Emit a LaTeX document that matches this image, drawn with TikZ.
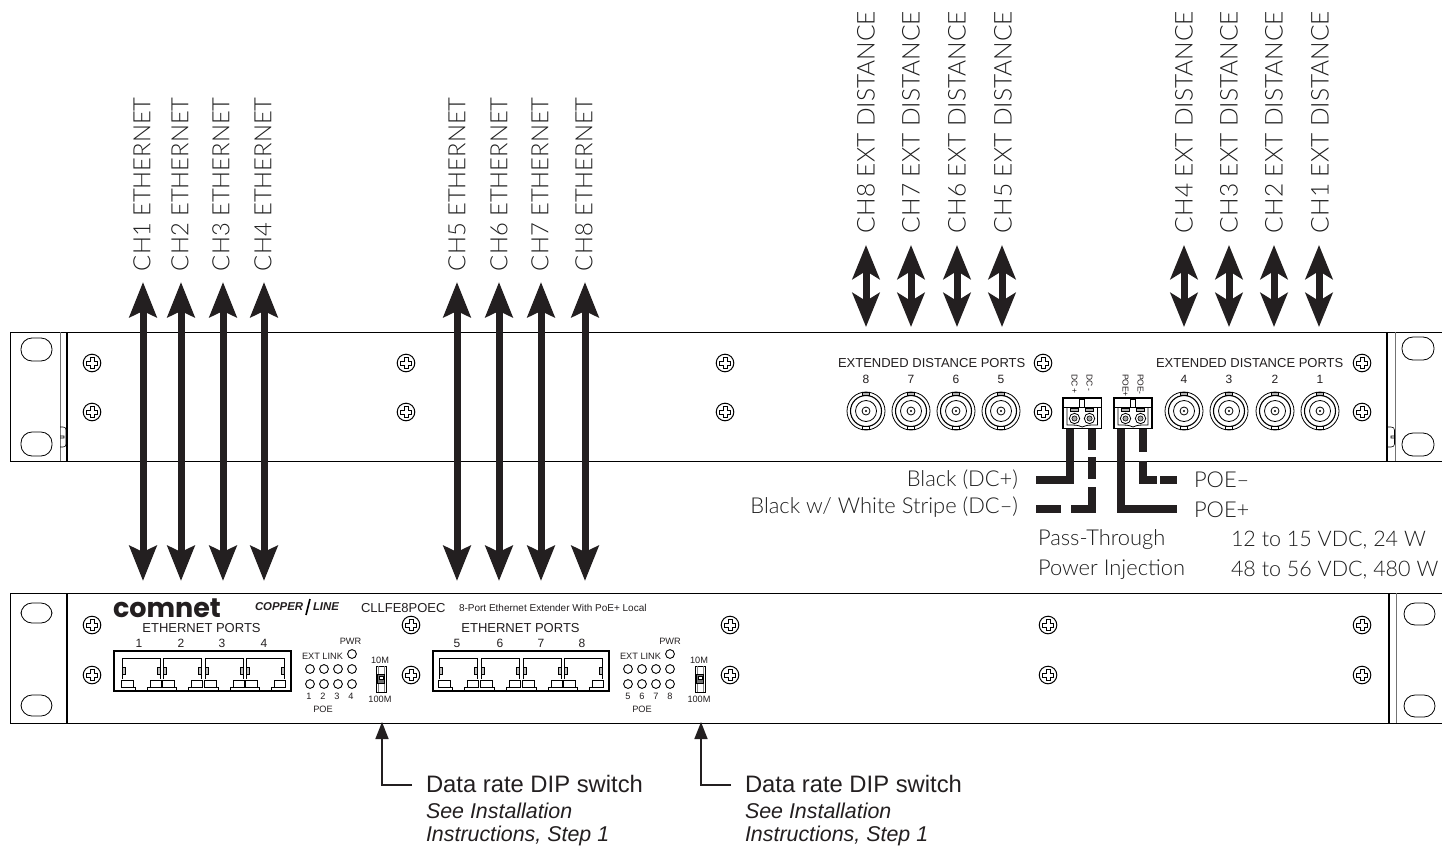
\documentclass[tikz,border=0pt]{standalone}
\usepackage{fontspec}
\setmainfont{Liberation Sans}
\newfontfamily\thinfont{Lato Light}
\newfontfamily\logofont{Poppins}[BoldFont={* Bold}]
\usetikzlibrary{arrows.meta}
\definecolor{inkc}{HTML}{231F20}
\definecolor{thinc}{HTML}{1E1E1E}
\newcommand{\fs}[1]{\fontsize{#1}{#1}\selectfont}
\tikzset{
 x=1pt,y=-1pt,
 every node/.style={inner sep=0pt,outer sep=0pt,text=inkc},
 panel/.style={draw=black,line width=1pt},
 thin rail/.style={draw=black!55,line width=1pt},
 thick rail/.style={draw=black,line width=1.3pt},
 slotc/.style={draw=black,line width=.8pt,rounded corners=11pt,fill=white},
 big arrow/.style={draw=inkc,line width=7pt,{Stealth[length=35pt,width=27pt,inset=6pt]}-{Stealth[length=35pt,width=27pt,inset=6pt]}},
 short arrow/.style={draw=inkc,line width=7pt,{Stealth[length=34pt,width=27pt,inset=8pt]}-{Stealth[length=34pt,width=27pt,inset=8pt]}},
 wire/.style={draw=inkc,line width=7.5pt},
 call arrow/.style={draw=inkc,line width=1.6pt,-{Triangle[length=17pt,width=13pt]}},
 chlabel/.style={rotate=90,anchor=west,font=\thinfont\fs{23.8},text=thinc},
 extlabel/.style={rotate=90,anchor=west,font=\thinfont\fs{24.5},text=thinc},
 wlabel/.style={font=\thinfont\fs{21.9},text=thinc},
 vlabel/.style={font=\thinfont\fs{21.5},text=thinc},
 ptext/.style={font=\fs{13}},
 stext/.style={font=\fs{9.2}},
 dlabel/.style={font=\fs{23.8}},
 nlabel/.style={font=\itshape\fs{21.4}},
 part/.style={draw=black,line width=.8pt,fill=white},
 fine/.style={draw=black,line width=.6pt},
}
\newcommand{\screw}[2]{%
 \draw[part,line width=1pt] (#1,#2) circle (8.8);
 \draw[fine,line width=1pt] (#1-2,#2-5.5)--(#1+2,#2-5.5)--(#1+2,#2-2)--(#1+5.5,#2-2)--(#1+5.5,#2+2)--(#1+2,#2+2)--(#1+2,#2+5.5)--(#1-2,#2+5.5)--(#1-2,#2+2)--(#1-5.5,#2+2)--(#1-5.5,#2-2)--(#1-2,#2-2)--cycle;}
\newcommand{\bnc}[2]{%
 \draw[part] (#1,#2) circle (19);
 \draw[part,line width=1.1pt] (#1,#2) circle (15.5);
 \draw[part] (#1,#2) circle (10.5);
 \draw[part] (#1,#2) circle (4);
 \fill[black] (#1,#2) circle (1.2);
 \draw[fine,fill=black!30] (#1-3.5,#2-18.5) rectangle (#1+3.5,#2-15.5);
 \draw[fine,fill=white] (#1-3.5,#2+15.5) rectangle (#1+3.5,#2+18.5);}
\newcommand{\rjport}[1]{%
 \draw[fine,line width=.8pt] (#1,679)--(#1,658)--(#1+38,658)--(#1+38,679);
 \draw[fine,fill=black!25] (#1,667) rectangle (#1+3,674);
 \draw[fine,fill=black!25] (#1+35,667) rectangle (#1+38,674);
 \draw[fine,line width=.8pt] (#1-1,680) rectangle (#1+11,687);
 \draw[fine,line width=.8pt] (#1+28,680) rectangle (#1+39,687);
 \draw[fine,line width=.8pt] (#1-1,687)--(#1+13,687)--(#1+13,691);
 \draw[fine,line width=.8pt] (#1+39,687)--(#1+25,687)--(#1+25,691);}
\newcommand{\led}[2]{\draw[part,line width=.9pt] (#1,#2) circle (4.4);}
\newcommand{\dip}[1]{%
 \draw[part,line width=1pt] (#1-5,666) rectangle (#1+5,692);
 \draw[fine,draw=black!50] (#1-3,666) -- (#1-3,692);
 \draw[fine,draw=black!50] (#1+3,666) -- (#1+3,692);
 \draw[fine,fill=black!55] (#1-3.5,674) rectangle (#1+3.5,683);
 \draw[fine,fill=white] (#1-2,676) rectangle (#1+2,679);}
\newcommand{\termblock}[4]{% x left, x right, circle1, circle2
 \draw[part,line width=1.1pt] (#1,398) rectangle (#2,428.5);
 \draw[fine] (#1,407)--(#2,407);
 \draw[fine,line width=.8pt] (#1+4,407)--(#1+4,425) .. controls (#1+14,425) and (#1+14,425) .. ({(#1+#2)/2},427) .. controls (#2-14,425) and (#2-14,425) .. (#2-4,425) -- (#2-4,407);
 \draw[part] ({(#1+#2)/2-2.5},399.5) rectangle ({(#1+#2)/2+2.5},407);
 \draw[fine,fill=black!30] (#3-4,408) rectangle (#3+4,411);
 \draw[fine,fill=black!30] (#4-4,408) rectangle (#4+4,411);
 \draw[part] (#3,418.5) circle (5.2);
 \draw[part] (#4,418.5) circle (5.2);
 \draw[fine,fill=black!35] (#3,418.5) circle (2.6);
 \draw[fine,fill=black!35] (#4,418.5) circle (2.6);}
\begin{document}
\begin{tikzpicture}
\useasboundingbox (0,0) rectangle (1442,846);
\fill[white] (0,0) rectangle (1442,846);
\clip (0,0) rectangle (1442,846);
% rear panel
\draw[panel] (1443,332)--(10,332)--(10,461)--(1443,461);
\draw[thin rail] (60,332)--(60,461);
\draw[thick rail] (67,332)--(67,461);
\draw[thick rail] (1387,332)--(1387,461);
\draw[thin rail] (1395,332)--(1395,461);
\draw[fine] (60,427)--(63,427) .. controls (65,427) and (66,428) .. (66,430)--(66,444) .. controls (66,446) and (65,447) .. (63,447)--(60,447) (60,436)--(64,436)--(64,438)--(60,438);
\draw[fine] (1388,427)--(1391,427) .. controls (1393,427) and (1394.5,428) .. (1394.5,430)--(1394.5,444) .. controls (1394.5,446) and (1393,447) .. (1391,447)--(1388,447) (1395,436)--(1391,436)--(1391,438)--(1395,438);
\draw[slotc] (21,338) rectangle (52,361);
\draw[slotc] (21,432) rectangle (52,456);
\draw[slotc] (1402,337) rectangle (1434,360);
\draw[slotc] (1402,433) rectangle (1434,456);
\foreach \px in {92,406,725,1043,1362}{\screw{\px}{363}\screw{\px}{412}}
\foreach \px in {866,911,956,1001,1184,1229,1275,1320}{\bnc{\px}{411}}
\node[ptext,anchor=west] (extA) at (838,363) {EXTENDED DISTANCE PORTS};
\node[ptext,anchor=west] (extB) at (1156,363) {EXTENDED DISTANCE PORTS};
\foreach \px/\t in {866/8,911/7,956/6,1001/5,1184/4,1229/3,1275/2,1320/1}{\node[font=\fs{12}] (ed\t) at (\px,379) {\t};}
% terminal blocks
\termblock{1063}{1101.5}{1074.5}{1089.5}
\termblock{1114}{1152}{1125.5}{1140.5}
\foreach \px/\t/\n/\e in {1074.5/DC +/a/394,1089.5/DC -/b/394,1125.5/POE+/c/394,1140.5/POE-/d/394}{
 \node[font=\fs{8.5},rotate=-90,anchor=west] (tb\n) at (\px,{\e-20}) {\t};}
% wires
\coordinate (dcpA) at (1070,429); \coordinate (dcpB) at (1070,480); \coordinate (dcpC) at (1036,480);
\draw[wire] (dcpA)--(dcpB)--(dcpC);
\coordinate (dcmA) at (1092,429); \coordinate (dcmB) at (1092,450);
\coordinate (dcmC) at (1092,457); \coordinate (dcmD) at (1092,479);
\coordinate (dcmE) at (1092,487); \coordinate (dcmF) at (1092,509); \coordinate (dcmG) at (1071,509);
\coordinate (dcmH) at (1061,509); \coordinate (dcmI) at (1036,509);
\draw[wire] (dcmA)--(dcmB); \draw[wire] (dcmC)--(dcmD); \draw[wire] (dcmE)--(dcmF)--(dcmG); \draw[wire] (dcmH)--(dcmI);
\coordinate (pepA) at (1121,429); \coordinate (pepB) at (1121,509); \coordinate (pepC) at (1177,509);
\draw[wire] (pepA)--(pepB)--(pepC);
\coordinate (pemA) at (1143,429); \coordinate (pemB) at (1143,452);
\coordinate (pemC) at (1143,461); \coordinate (pemD) at (1143,480); \coordinate (pemE) at (1157,480);
\coordinate (pemF) at (1160,480); \coordinate (pemG) at (1177,480);
\draw[wire] (pemA)--(pemB); \draw[wire] (pemC)--(pemD)--(pemE); \draw[wire] (pemF)--(pemG);
% wire labels
\node[wlabel,anchor=east] (lbk) at (1018,480) {Black (DC+)};
\node[wlabel,anchor=east] (lbw) at (1018,507) {Black w/ White Stripe (DC–)};
\node[wlabel,anchor=west] (lpm) at (1194,480) {POE–};
\node[wlabel,anchor=west] (lpp) at (1194,510) {POE+};
\node[wlabel,anchor=west] (lpt) at (1038,540) {Pass-Through};
\node[wlabel,anchor=west] (lpi) at (1038,570) {Power Injection};
\node[vlabel,anchor=west] (lv1) at (1231,540) {12 to 15 VDC, 24 W};
\node[vlabel,anchor=west] (lv2) at (1231,570) {48 to 56 VDC, 480 W};
% front panel
\draw[panel] (1443,593)--(10,593)--(10,723)--(1443,723);
\draw[thick rail] (67,593)--(67,723);
\draw[thick rail] (1389,593)--(1389,723);
\draw[thin rail] (1396,593)--(1396,723);
\draw[slotc] (21,603) rectangle (52,623);
\draw[slotc] (21,695) rectangle (52,716);
\draw[slotc] (1404,603) rectangle (1435,625);
\draw[slotc] (1404,695) rectangle (1435,717);
\foreach \px in {92,411,730,1048,1362}{\screw{\px}{625}\screw{\px}{675}}
\node[font=\logofont\bfseries\fs{27},anchor=base west] (logo) at (113,617) {comnet};
\node[font=\bfseries\itshape\fs{11.4},anchor=west] (cop) at (255,607) {COPPER};
\node[font=\bfseries\itshape\fs{11.4},anchor=west] (lin) at (313,607) {LINE};
\draw[line width=1.6pt] (306,615)--(310,599);
\node[ptext,anchor=west] (model) at (361,608) {CLLFE8POEC};
\node[font=\fs{10},anchor=west] (desc) at (459,608) {8-Port Ethernet Extender With PoE+ Local};
\node[ptext,anchor=center] (ethA) at (201.5,628.5) {ETHERNET PORTS};
\node[ptext,anchor=center] (ethB) at (520.5,628.5) {ETHERNET PORTS};
\foreach \px/\t in {139/1,181/2,222/3,264/4,457/5,500/6,541/7,582/8}{\node[font=\fs{12}] (ep\t) at (\px,643) {\t};}
\draw[draw=black,line width=1.3pt] (114,651) rectangle (291,691);
\draw[draw=black,line width=1.3pt] (433,651) rectangle (609,691);
\foreach \px in {122,163,205,246,439,481,523,564}{\rjport{\px}}
% LEDs
\foreach \px in {310,324,338,352,628,642,656,670}{\led{\px}{669}\led{\px}{684}}
\led{352}{654}\led{670}{654}
\node[stext] (extlA) at (322.5,656) {EXT LINK};
\node[stext] (extlB) at (640.5,656) {EXT LINK};
\node[stext] (pwrA) at (350.5,641) {PWR};
\node[stext] (pwrB) at (670,641) {PWR};
\foreach \px/\t in {309/1,323/2,337/3,351/4,628/5,642/6,656/7,670/8}{\node[stext] (ln\t) at (\px,696) {\t};}
\node[stext] (poeA) at (323,709) {POE};
\node[stext] (poeB) at (642,709) {POE};
\dip{381}\dip{700}
\node[stext] (tenA) at (380,660) {10M};
\node[stext] (hunA) at (380,699) {100M};
\node[stext] (tenB) at (699,660) {10M};
\node[stext] (hunB) at (699,699) {100M};
% long arrows
\foreach \px/\t in {143/1,181/2,223/3,264/4,457/5,499/6,541/7,585/8}{
 \coordinate (ua\t) at (\px,282); \coordinate (la\t) at (\px,581);
 \draw[big arrow] (ua\t)--(la\t);}
\foreach \px/\t in {866/8,911/7,957/6,1002/5,1184/4,1229/3,1274/2,1319/1}{
 \coordinate (ub\t) at (\px,245); \coordinate (lb\t) at (\px,327);
 \draw[short arrow] (ub\t)--(lb\t);}
\foreach \px/\t in {143/1,181/2,222/3,264/4,458/5,500/6,541/7,585/8}{
 \node[chlabel] (cht\t) at (\px-1,271) {CH\t\ ETHERNET};}
\foreach \px/\t in {866/8,911/7,957/6,1003/5,1184/4,1229/3,1274/2,1320/1}{
 \node[extlabel] (ext\t) at (\px,233) {CH\t\ EXT DISTANCE};}
% DIP callouts
\coordinate (caA) at (412,785); \coordinate (cbA) at (382,785); \coordinate (ccA) at (382,722);
\coordinate (caB) at (731,785); \coordinate (cbB) at (701,785); \coordinate (ccB) at (701,722);
\draw[call arrow] (caA)--(cbA)--(ccA);
\draw[call arrow] (caB)--(cbB)--(ccB);
\node[dlabel,anchor=west] (dA) at (426,784) {Data rate DIP switch};
\node[nlabel,anchor=west] (nA1) at (426,811) {See Installation};
\node[nlabel,anchor=west] (nA2) at (426,836) {Instructions, Step 1};
\node[dlabel,anchor=west] (dB) at (745,784) {Data rate DIP switch};
\node[nlabel,anchor=west] (nB1) at (745,811) {See Installation};
\node[nlabel,anchor=west] (nB2) at (745,836) {Instructions, Step 1};
\end{tikzpicture}
\end{document}
